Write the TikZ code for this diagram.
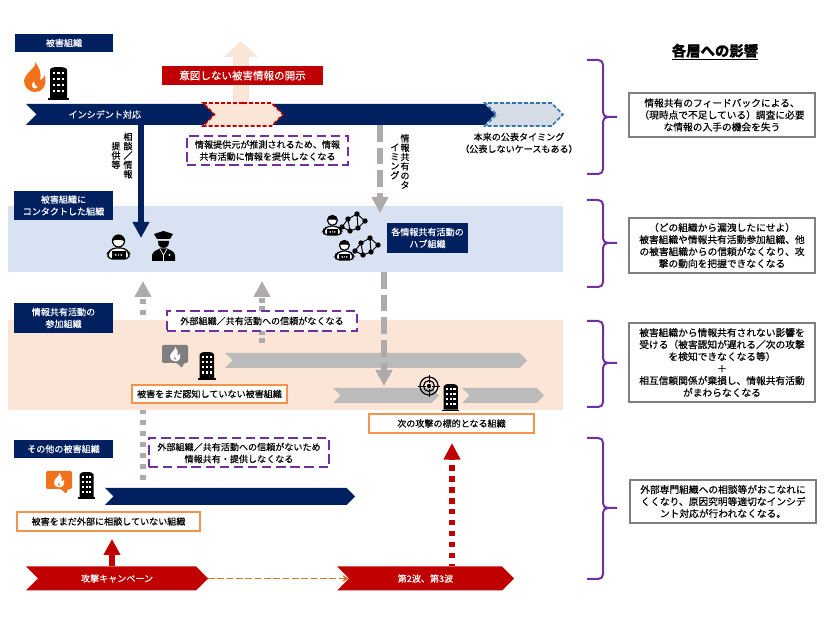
\documentclass[tikz,border=0pt]{standalone}
\usepackage{fontspec}
\setmainfont[FakeBold=0.3]{Noto Sans CJK JP}
\usetikzlibrary{arrows.meta, positioning, shapes.symbols}

\definecolor{navy}{HTML}{002060}
\definecolor{crimson}{HTML}{C00000}
\definecolor{peach}{HTML}{FBE5D6}
\definecolor{paleblue}{HTML}{D9E2F3}
\definecolor{slateblue}{HTML}{D6DCE5}
\definecolor{dashblue}{HTML}{2E75B6}
\definecolor{violet}{HTML}{7030A0}
\definecolor{flame}{HTML}{F2711C}
\definecolor{rust}{HTML}{D9742B}
\definecolor{boxorange}{HTML}{F4924E}
\definecolor{linegrey}{HTML}{AFABAB}
\definecolor{bargrey}{HTML}{BBBBBB}
\definecolor{edgegrey}{HTML}{7F7F7F}

\begin{document}
\begin{tikzpicture}[
      x = .75pt, y = -.75pt,       % one unit is one pixel, y runs down
      font = \fontsize{6.8}{9}\selectfont,
      wh/.style 2 args = {minimum width = #1*.75pt, minimum height = #2*.75pt},
      inner sep = 0pt, outer sep = 0pt
    ]

    \tikzstyle{band}=[        % Coloured layer behind a group
      rectangle
    ]
    \tikzstyle{banner}=[      % Navy heading
      fill = navy,
      text = white,
      align = center
    ]
    \tikzstyle{redbox}=[
      fill = crimson,
      text = white,
      font = \fontsize{7.9}{9}\selectfont
    ]
    \tikzstyle{orangebox}=[   % Name of an organisation
      draw = boxorange,
      line width = 1.2pt,
      fill = white
    ]
    \tikzstyle{effectbox}=[   % Right column
      draw = edgegrey,
      line width = 1.5pt,
      fill = white,
      align = center,
      font = \fontsize{7.3}{9}\selectfont
    ]
    \tikzstyle{lossbox}=[     % Dashed note
      draw = violet,
      line width = 1.5pt,
      dash pattern = on 7pt off 3.6pt,
      fill = white,
      align = center
    ]
    \tikzstyle{chevron}=[     % Notched bar
      signal,
      signal from = west,
      signal to = east,
      signal pointer angle = 90
    ]
    \tikzstyle{vertical}=[
      font = \fontsize{6.8}{7}\selectfont,
      align = center
    ]
    \tikzstyle{greyflow}=[
      draw = linegrey,
      line width = 4.3pt,
      dash pattern = on 12.4pt off 4.6pt,
      -{Triangle[length = 12pt, width = 12pt]}
    ]
    \tikzstyle{greydots}=[
      draw = linegrey,
      line width = 4pt,
      -{Triangle[length = 12pt, width = 12pt]}
    ]
    \tikzstyle{bracket}=[
      draw = violet,
      line width = 1.5pt,
      rounded corners = 3.5pt
    ]

    % Icons, drawn from their top left corner
    \tikzset{
      pics/building/.style = {code = {
        \fill (2,31) -- (2,3) .. controls (2,1) and (5,0) .. (10.5,0)
          .. controls (16,0) and (19,1) .. (19,3) -- (19,31) -- cycle;
        \fill (0,31) rectangle (21,33);
        \foreach \cx in {6,10.5,15}
          \foreach \cy in {6,12,18,24}
            \fill[white] (\cx-1.3,\cy-1.3) rectangle ++(2.6,2.6);
      }},
      pics/fire/.style = {code = {
        \fill[#1, even odd rule] (11,0) .. controls (13,6) and (1,10) .. (0,19)
          .. controls (0,26) and (6,30) .. (11,30)
          .. controls (18,30) and (23,25) .. (21,13)
          .. controls (20,16) and (18,18) .. (16,18)
          .. controls (18,11) and (15,5) .. (11,0)
          (10,19) .. controls (9,21) and (7,22) .. (8,25)
          .. controls (9,27) and (13,27) .. (14,25)
          .. controls (12,25) and (11,23) .. (10,19);
      }},
      pics/bubble/.style = {code = {
        \fill[#1, rounded corners = 1pt] (0,0) -- (26,0) -- (26,18) -- (22,18)
          -- (20,23) -- (15,18) -- (0,18) -- cycle;
        \pic[scale = .48] at (8,2) {fire = white};
      }},
      pics/coder/.style = {code = {
        \draw[line width = .9pt, fill = white, rounded corners = 3pt]
          (1,27) -- (1,21) -- (5,16) -- (18,16) -- (22,21) -- (22,27) -- cycle;
        \draw[line width = .9pt, fill = white] (11.5,9) circle (6);
        \fill (5.5,9) .. controls (5.5,5) and (8,3) .. (11.5,3)
          .. controls (15,3) and (17.5,5) .. (17.5,9) -- (14,8) -- (8,8) -- cycle;
        \fill (4.5,19) rectangle (18.5,27);
        \draw[white, line width = .35pt] (9.5,22) -- (8,23) -- (9.5,24)
          (13.5,22) -- (15,23) -- (13.5,24) (12,22) -- (11,24);
      }},
      pics/officer/.style = {code = {
        \fill (2,3) -- (11.5,0) -- (21,3) -- (18,8) -- (5,8) -- cycle;
        \fill (6,10) -- (17,10) -- (16.5,14) .. controls (15,18) and (8,18) .. (6.5,14) -- cycle;
        \fill (0,30) -- (0,24) .. controls (1,20) and (5,19) .. (8,17.5)
          -- (15,17.5) .. controls (18,19) and (22,20) .. (23,24) -- (23,30) -- cycle;
        \draw[white, line width = .5pt] (8,18) -- (11.5,24) -- (15,18) (11.5,24) -- (11.5,30);
        \fill[white] (17.5,24) circle (1.2);
      }},
      pics/hubnet/.style = {code = {
        \draw[line width = .7pt] (2,15) -- (8,7) -- (17,2) -- (25,9) -- (18,16)
          -- (10,19) -- (2,15) (8,7) -- (10,19) (17,2) -- (18,16);
        \foreach \nx/\ny in {2/15,8/7,17/2,25/9,18/16,10/19}
          \fill (\nx,\ny) circle (2.7);
      }},
      pics/crosshair/.style = {code = {
        \draw[line width = .9pt] (0,0) circle (9);
        \draw[line width = .9pt] (0,0) circle (5.5);
        \fill (0,0) circle (2.2);
        \draw[line width = .7pt] (-11,0) -- (-3,0) (3,0) -- (11,0) (0,-11) -- (0,-3) (0,3) -- (0,11);
      }}
    }

    \useasboundingbox (0,0) rectangle (826,620);

    % Free ends of the arrows
    \coordinate (topshare) at (143,281);
    \coordinate (tailshare) at (143,480);
    \coordinate (toptrust) at (262,281);
    \coordinate (tailtrust) at (262,343);
    \coordinate (contacttip) at (141,238);
    \coordinate (hubtip) at (380,213);
    \coordinate (nexttip) at (384,386);
    \coordinate (redtip) at (112,539);
    \coordinate (wavetip) at (452,443);
    \coordinate (leaktip) at (241,41);

    % This one passes behind the coloured layer
    \draw[greydots, dash pattern = on 3.75pt off 4.5pt] (tailshare) -- (topshare);

    % Definition of the layers
    \node[band, fill = paleblue, wh = {555}{66}] (contactband) at (285.5,239) {};
    \node[band, fill = peach, wh = {555}{90}] (memberband) at (285.5,365) {};

    % Left side, top group
    \node[banner, wh = {98}{18}] (victim) at (64,43) {被害組織};
    \pic at (24,62) {fire = flame};
    \pic at (48,67) {building};
    \draw[peach, line width = 12pt, -{Triangle[length = 12pt, width = 25pt]}]
      (241,104) -- (leaktip);
    \node[redbox, wh = {161}{19}] (leak) at (242.5,75.5) {意図しない被害情報の開示};
    \node[chevron, fill = slateblue, draw = dashblue, line width = 1.2pt,
      dash pattern = on 3pt off 1.5pt, wh = {78}{23}] (planned) at (524,114.5) {};
    \node[chevron, fill = navy, wh = {469}{21}] (incident) at (260.5,114.5) {};
    \node[text = white, right = 24pt of incident.west] (incidentlabel) {インシデント対応};
    \node[chevron, fill = peach, draw = crimson, line width = 1.2pt,
      dash pattern = on 3pt off 1.5pt, wh = {80}{23}] (exposed) at (243,114.5) {};
    \node[lossbox, wh = {161}{29}] (sourceloss) at (267.5,150.5)
      {情報提供元が推測されるため、情報\\共有活動に情報を提供しなくなる};
    \node[align = center] (plannedtext) at (519,143)
      {本来の公表タイミング\\（公表しないケースもある）};
    \node[vertical] (consultr) at (128,155.5) {相\\談\\／\\情\\報};
    \node[vertical, left = 2.2pt of consultr] (consultl) {提\\供\\等};
    \node[vertical] (timingr) at (405,161.5) {情\\報\\共\\有\\の\\タ};
    \node[vertical, left = .8pt of timingr] (timingl) {イ\\ミ\\ン\\グ};

    % Contacted organisations
    \node[banner, wh = {99}{29}] (contacted) at (63.5,205.5) {被害組織に\\コンタクトした組織};
    \pic at (107,232) {coder};
    \pic at (152,231) {officer};
    \pic[scale = .82] at (323,213) {coder};
    \pic at (340,212) {hubnet};
    \pic[scale = .82] at (335,238) {coder};
    \pic at (353,236) {hubnet};
    \node[banner, wh = {81}{30}] (hub) at (427.5,238) {各情報共有活動の\\ハブ組織};
    \draw[navy, line width = 3.8pt, -{Triangle[length = 12pt, width = 12pt]}]
      (incident.south -| contacttip) -- (contacttip);
    \draw[greyflow] (incident.south -| hubtip) -- (hubtip);

    % Sharing members
    \node[banner, wh = {99}{30}] (members) at (63.5,318) {情報共有活動の\\参加組織};
    \draw[greydots, dash pattern = on 3.75pt off 2.25pt] (tailtrust) -- (toptrust);
    \node[lossbox, wh = {190}{20}] (trustloss) at (262,321) {外部組織／共有活動への信頼がなくなる};
    \pic at (162,345) {bubble = edgegrey};
    \pic[scale = .85] at (198,352) {building};
    \node[chevron, fill = bargrey, wh = {302}{15}] (greybar) at (376,360.5) {};
    \node[chevron, fill = bargrey, wh = {106}{15}] (greybara) at (386,395.5) {};
    \node[chevron, fill = bargrey, wh = {82}{15}] (greybarb) at (503,395.5) {};
    \draw[greyflow] (contactband.south -| nexttip) -- (nexttip);
    \pic at (429,386) {crosshair};
    \pic[scale = .83] at (442,384) {building};
    \node[orangebox, wh = {155}{18}] (unaware) at (209.5,394) {被害をまだ認知していない被害組織};
    \node[orangebox, wh = {165}{19}] (nexttarget) at (451.5,423.5) {次の攻撃の標的となる組織};

    % Other victims
    \node[banner, wh = {99}{18}] (others) at (63.5,449) {その他の被害組織};
    \pic at (46,471) {bubble = flame};
    \pic[scale = .82] at (78,472) {building};
    \node[chevron, fill = navy, wh = {250}{17}] (otherbar) at (230,496.5) {};
    \node[lossbox, wh = {180}{29}] (sharingloss) at (239,453)
      {外部組織／共有活動への信頼がないため\\情報共有・提供しなくなる};
    \node[orangebox, wh = {183}{19}] (unconsulted) at (108.5,521.5) {被害をまだ外部に相談していない組織};

    % Attack campaign
    \node[chevron, fill = crimson, text = white, wh = {182}{24}] (campaign) at (117,578.5) {攻撃キャンペーン};
    \node[chevron, fill = crimson, text = white, wh = {177}{24}] (wave) at (425.5,578.5) {第2波、第3波};
    \draw[rust, line width = 1.3pt, dash pattern = on 5pt off 2pt, -{Stealth[length = 5pt, width = 5pt]}]
      (campaign.east) -- (wave.west);
    \draw[crimson, line width = 3.8pt, -{Triangle[length = 12pt, width = 12pt]}]
      (campaign.north -| redtip) -- (redtip);
    \draw[crimson, line width = 4pt, dash pattern = on 4.2pt off 4pt, dash phase = 2pt,
      -{Triangle[length = 12.5pt, width = 12pt]}]
      (wave.north -| wavetip) -- (wavetip);

    % Right column
    \node[font = \fontsize{10.8}{13}\bfseries\selectfont] (title) at (715,52) {\underline{各層への影響}};
    \foreach \ya/\ym/\yb in {60/117/174, 200/243/287, 321/363/407, 438/508/579}
      \draw[bracket] (587,\ya) -- (603,\ya) -- (603,\ym) -- (617,\ym)
        (617,\ym) -- (603,\ym) -- (603,\yb) -- (587,\yb);
    \node[effectbox, wh = {186}{44}] (effecta) at (722,115)
      {情報共有のフィードバックによる、\\（現時点で不足している）調査に必要\\な情報の入手の機会を失う};
    \node[effectbox, wh = {186}{55}] (effectb) at (722,245.5)
      {（どの組織から漏洩したにせよ）\\被害組織や情報共有活動参加組織、他\\の被害組織からの信頼がなくなり、攻\\撃の動向を把握できなくなる};
    \node[effectbox, wh = {186}{79}] (effectc) at (722,362.5)
      {被害組織から情報共有されない影響を\\受ける（被害認知が遅れる／次の攻撃\\を検知できなくなる等）\\＋\\相互信頼関係が棄損し、情報共有活動\\がまわらなくなる};
    \node[effectbox, wh = {186}{43}] (effectd) at (723,501.5)
      {外部専門組織への相談等がおこなれに\\くくなり、原因究明等適切なインシデ\\ント対応が行われなくなる。};

  \end{tikzpicture}
\end{document}
